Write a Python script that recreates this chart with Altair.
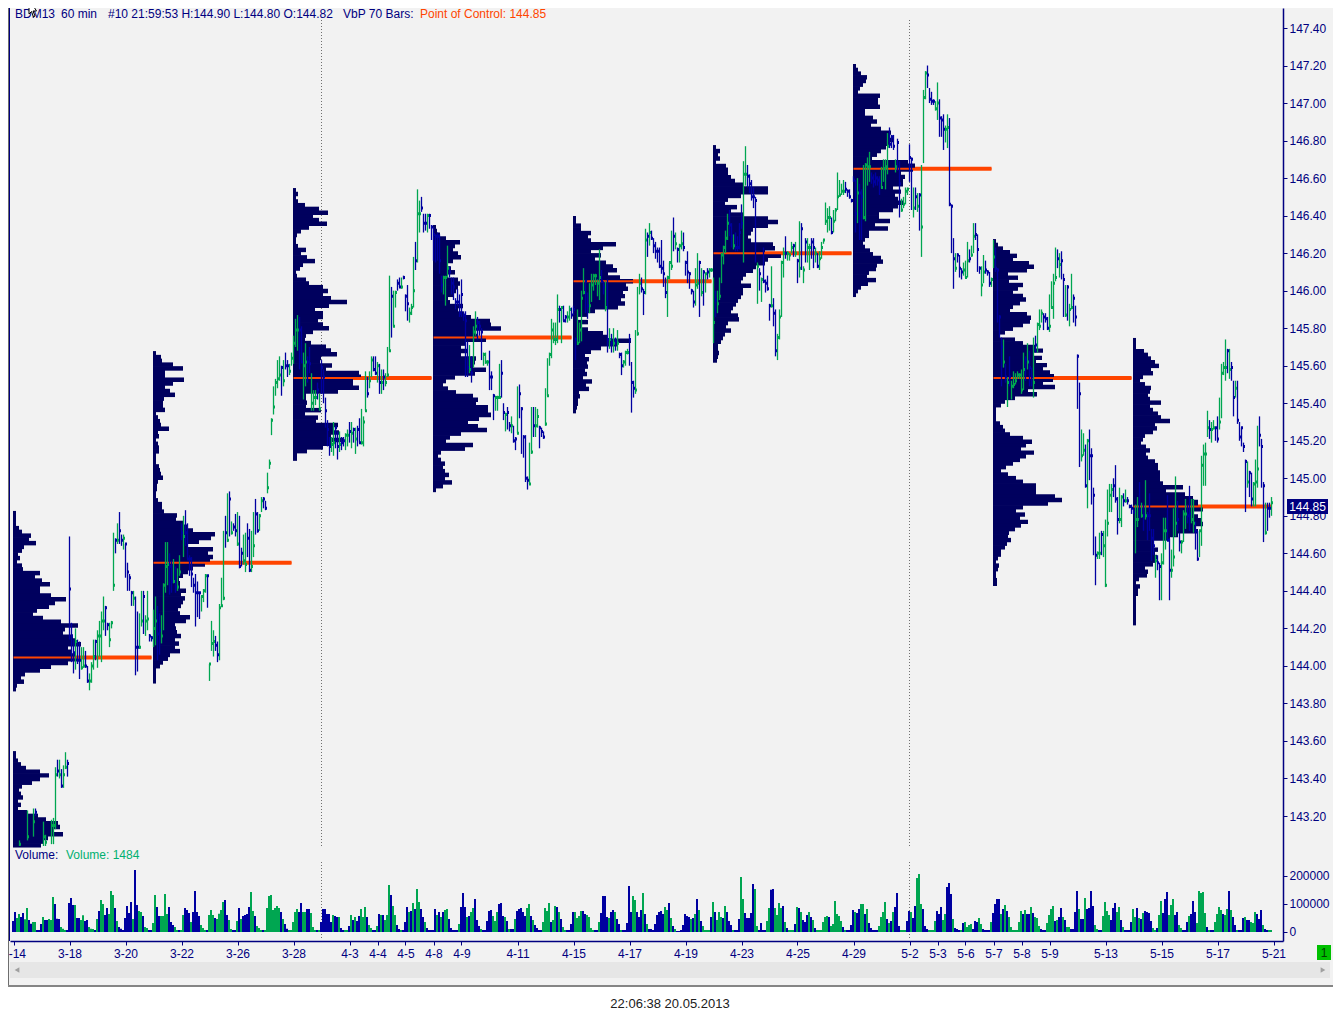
import altair as alt
import pandas as pd

# ---------- candles: (bar, high, low, close, up) ----------
candles_a = [(3,143.07,143.04,143.05,1),(7,143.23,143.07,143.09,1),(10,143.24,143.09,143.17,1),(11,143.24,143.2,143.22,0),(15,143.17,143.04,143.09,1),(16,143.1,143.04,143.06,1),(19,143.18,143.05,143.15,1),(20,143.19,143.05,143.15,1),(21,143.46,143.13,143.42,1),(22,143.5,143.41,143.44,0),(23,143.5,143.4,143.42,1),(24,143.45,143.35,143.36,0),(25,143.47,143.35,143.42,1),(26,143.54,143.45,143.46,1),(27,143.5,143.41,143.48,0),
(28,144.69,144.14,144.41,0),(29,144.23,144.02,144.16,0),(30,144.14,143.96,144.07,0),(31,144.2,143.98,144.13,1),(32,144.14,144.01,144.03,0),(33,144.13,143.93,144.03,0),(34,144.1,143.98,143.99,1),(35,144.1,143.99,144.0,1),(36,144.08,143.99,144.0,0),(37,144.0,143.91,143.92,0),(38,143.96,143.87,143.92,1),(39,144.02,143.91,144.0,1),(40,144.14,143.98,144.05,1),(41,144.14,144.03,144.13,0),(42,144.19,143.99,144.16,1),(43,144.24,144.05,144.16,1),(44,144.29,144.02,144.24,1),(45,144.37,144.19,144.24,1),(46,144.32,144.16,144.31,0),(47,144.23,144.19,144.22,0),(48,144.23,144.1,144.14,1),(49,144.24,144.2,144.23,1),(50,144.71,144.4,144.43,1),(51,144.68,144.6,144.67,0),(52,144.76,144.65,144.67,1),(53,144.82,144.65,144.72,0),(54,144.7,144.64,144.67,0),(55,144.7,144.62,144.68,1),(56,144.65,144.47,144.65,0),(57,144.55,144.4,144.5,0),(58,144.49,144.4,144.47,0),(59,144.4,144.32,144.39,0),(60,144.4,144.32,144.36,1),(61,144.37,143.95,144.1,0),(62,144.29,143.97,144.1,0),(63,144.28,144.09,144.1,1),(64,144.4,144.21,144.24,1),(65,144.4,144.17,144.37,0),(66,144.27,144.16,144.24,1),(67,144.4,144.19,144.25,1),(68,144.17,144.13,144.16,0),(69,144.16,144.13,144.15,0)]
candles_b = [(70,144.3,144.1,144.2,1),(71,144.37,144.11,144.24,1),(72,144.32,144.03,144.17,0),(73,144.28,144.06,144.19,0),(74,144.27,144.12,144.16,1),(75,144.44,144.19,144.43,1),(76,144.66,144.39,144.53,1),(77,144.66,144.43,144.54,1),(78,144.6,144.38,144.53,0),(79,144.56,144.39,144.45,0),(80,144.57,144.44,144.45,1),(81,144.53,144.39,144.42,0),(82,144.52,144.4,144.42,1),(83,144.59,144.48,144.5,1),(84,144.76,144.67,144.71,0),(85,144.8,144.58,144.69,1),(86,144.83,144.64,144.71,0),(87,144.76,144.57,144.57,0),(88,144.59,144.48,144.57,0),(89,144.58,144.42,144.49,0),(90,144.47,144.39,144.43,0),(91,144.49,144.21,144.39,0),(92,144.45,144.26,144.39,0),(93,144.39,144.25,144.39,0),(94,144.37,144.29,144.37,1),(95,144.41,144.34,144.4,1),(96,144.49,144.39,144.48,1),(97,144.48,144.31,144.48,0),(98,144.01,143.92,144.01,1),(99,144.24,144.08,144.12,1),(100,144.19,144.05,144.13,1),(101,144.16,144.08,144.11,0),(102,144.13,144.02,144.06,0),(103,144.33,144.03,144.31,1),(104,144.47,144.32,144.32,1),(105,144.72,144.35,144.36,1),(106,144.8,144.63,144.71,0),(107,144.92,144.66,144.67,1),(108,144.93,144.69,144.89,0),(109,144.77,144.7,144.71,1),(110,144.76,144.72,144.74,0),(111,144.81,144.69,144.72,0),(112,144.82,144.64,144.65,1),(113,144.8,144.52,144.53,0),(114,144.63,144.53,144.6,0),(115,144.7,144.54,144.56,1),(116,144.71,144.5,144.54,1),(117,144.76,144.58,144.68,0),(118,144.73,144.5,144.51,0),(119,144.72,144.5,144.53,1),(120,144.82,144.58,144.64,1),(121,144.89,144.7,144.81,0),(122,144.82,144.71,144.72,0),(123,144.81,144.72,144.8,1),(124,144.9,144.82,144.88,1),(125,144.9,144.84,144.89,0),(126,144.88,144.83,144.84,0),(127,145.03,144.92,144.95,1),(128,145.1,145.05,145.08,1),(129,145.32,145.23,145.31,1),(130,145.49,145.34,145.38,1),(131,145.53,145.44,145.51,1),(132,145.63,145.48,145.53,1),(133,145.65,145.52,145.55,1),(134,145.6,145.44,145.59,0),(135,145.63,145.49,145.52,1),(136,145.67,145.58,145.6,0),(137,145.63,145.54,145.6,0),(138,145.61,145.55,145.57,1),(139,145.67,145.6,145.64,1)]
candles_c = [(140,145.76,145.61,145.72,1),(141,145.85,145.7,145.79,1),(142,145.87,145.68,145.79,1),(143,145.86,145.58,145.79,0),(144,145.81,145.62,145.62,0),(145,145.67,145.42,145.6,1),(146,145.72,145.49,145.62,1),(147,145.65,145.51,145.62,0),(148,145.7,145.56,145.61,0),(149,145.56,145.36,145.4,1),(150,145.47,145.36,145.43,1),(151,145.47,145.39,145.43,1),(152,145.51,145.42,145.47,0),(153,145.45,145.36,145.37,1),(154,145.63,145.45,145.59,0),(155,145.58,145.4,145.54,0),(156,145.43,145.27,145.36,0),(157,145.31,145.17,145.26,0),(158,145.22,145.12,145.17,0),(159,145.22,145.14,145.18,1),(160,145.3,145.12,145.19,1),(161,145.28,145.16,145.27,0),(162,145.25,145.1,145.17,0),(163,145.25,145.14,145.18,1),(164,145.22,145.15,145.19,0),(165,145.22,145.17,145.2,0),(166,145.24,145.15,145.23,1),(167,145.26,145.17,145.23,1),(168,145.3,145.19,145.25,0),(169,145.3,145.16,145.24,1),(170,145.27,145.19,145.26,0),(171,145.27,145.13,145.21,1),(172,145.28,145.17,145.26,0),(173,145.32,145.19,145.19,0),(174,145.37,145.18,145.19,1),(175,145.33,145.17,145.3,1),(176,145.57,145.36,145.36,1),(177,145.54,145.43,145.45,0),(178,145.57,145.48,145.52,1),(179,145.65,145.54,145.63,1),(180,145.65,145.57,145.58,0),(181,145.65,145.55,145.56,0),(182,145.62,145.51,145.6,1),(183,145.61,145.45,145.51,0),(184,145.58,145.45,145.51,1),(185,145.58,145.47,145.54,0),(186,145.56,145.49,145.51,1),(187,145.7,145.54,145.55,1),(188,146.08,145.68,145.68,1),(189,146.02,145.75,145.97,0),(190,146.0,145.81,145.81,1),(191,146.0,145.91,145.99,1),(192,146.06,146.0,146.04,0),(193,146.07,146.02,146.02,0),(194,146.07,146.01,146.02,1),(195,146.08,146.06,146.07,0),(196,145.98,145.89,145.97,0),(197,146.03,145.84,145.93,0),(198,145.91,145.83,145.88,1),(199,145.93,145.87,145.91,1),(200,146.18,145.91,146.0,1),(201,146.26,146.11,146.16,0),(202,146.54,146.15,146.41,1),(203,146.48,146.31,146.41,1),(204,146.5,146.42,146.44,0),(205,146.41,146.31,146.36,0),(206,146.41,146.32,146.36,0),(207,146.41,146.31,146.4,1),(208,146.41,146.33,146.4,0),(209,146.35,146.27,146.34,0)]
candles_d = [(210,146.34,146.16,146.3,0),(211,146.3,146.15,146.29,0),(212,146.31,146.16,146.29,0),(213,146.3,146.09,146.16,0),(214,146.08,145.99,146.03,0),(215,146.08,145.98,146.07,1),(216,146.08,145.92,146.07,1),(217,146.24,146.07,146.12,1),(218,146.13,146.07,146.1,0),(219,146.07,145.98,146.04,0),(220,146.07,145.95,146.02,0),(221,145.96,145.9,145.94,0),(222,146.01,145.92,145.94,0),(223,145.98,145.86,145.88,0),(224,146.06,145.86,145.98,0),(225,145.89,145.84,145.87,0),(226,145.89,145.54,145.84,0),(227,145.73,145.54,145.59,0),(228,145.71,145.56,145.58,1),(229,145.65,145.51,145.56,0),(230,145.81,145.59,145.78,1),(231,145.89,145.76,145.81,1),(232,145.86,145.74,145.83,0),(233,145.84,145.76,145.81,0),(234,145.8,145.63,145.78,0),(235,145.67,145.6,145.66,1),(236,145.67,145.61,145.62,1),(237,145.63,145.6,145.62,1),(238,145.68,145.47,145.54,0),(239,145.57,145.47,145.54,0),(240,145.45,145.31,145.44,0),(241,145.44,145.36,145.43,1),(242,145.44,145.36,145.43,1),(243,145.61,145.43,145.43,1),(244,145.63,145.43,145.56,0),(245,145.4,145.31,145.35,0),(246,145.35,145.25,145.34,1),(247,145.38,145.26,145.35,0),(248,145.3,145.25,145.28,0),(249,145.33,145.24,145.28,1),(250,145.28,145.19,145.2,0),(251,145.22,145.15,145.21,0),(252,145.49,145.24,145.24,1),(253,145.5,145.32,145.45,0),(254,145.38,145.13,145.37,0),(255,145.23,145.11,145.22,0),(256,145.23,144.98,145.0,0),(257,145.01,144.94,144.99,0),(258,145.19,144.97,144.97,1),(259,145.38,145.13,145.14,1),(260,145.38,145.22,145.28,0),(261,145.38,145.22,145.28,1),(262,145.37,145.27,145.33,1),(263,145.28,145.16,145.27,0),(264,145.27,145.22,145.25,0),(265,145.25,145.21,145.22,0),(266,145.48,145.28,145.29,1),(267,145.64,145.44,145.44,1),(268,145.67,145.6,145.66,1),(269,145.85,145.64,145.79,1),(270,145.83,145.72,145.74,1),(271,145.83,145.71,145.74,1),(272,145.98,145.72,145.9,1),(273,145.92,145.83,145.9,0),(274,145.91,145.72,145.91,1),(275,145.92,145.84,145.84,0),(276,145.87,145.83,145.86,0),(277,145.89,145.83,145.86,1),(278,145.92,145.84,145.9,1),(279,145.91,145.85,145.87,0)]
candles_e = [(280,145.92,145.87,145.9,0),(281,145.75,145.63,145.74,0),(282,145.9,145.71,145.72,1),(283,145.83,145.72,145.79,1),(284,146.0,145.73,145.96,1),(285,146.12,145.98,145.99,1),(286,146.05,145.88,146.05,0),(287,145.99,145.85,145.92,0),(288,146.04,145.88,145.92,1),(289,146.09,145.94,146.03,1),(290,146.09,146.0,146.08,1),(291,146.09,146.03,146.08,1),(292,146.06,145.97,146.04,1),(293,146.22,145.95,146.07,1),(294,146.11,146.04,146.05,0),(295,146.05,145.98,146.02,0),(296,146.05,145.89,145.91,1),(297,146.06,145.67,145.74,0),(298,145.8,145.69,145.74,1),(299,145.77,145.67,145.72,0),(300,145.8,145.67,145.72,1),(301,145.75,145.68,145.73,0),(302,145.79,145.68,145.72,1),(303,145.67,145.64,145.66,0),(304,145.67,145.55,145.6,0),(305,145.63,145.59,145.62,1),(306,145.68,145.6,145.67,1),(307,145.69,145.66,145.67,1),(308,145.77,145.6,145.74,0),(309,145.62,145.35,145.51,0),(310,145.52,145.43,145.48,0),(311,145.79,145.45,145.47,1),(312,146.02,145.76,145.77,1),(313,146.09,145.98,146.04,1),(314,146.07,145.99,146.01,0),(315,146.01,145.87,145.99,0),(316,146.33,145.98,146.27,1),(317,146.31,146.18,146.29,0),(318,146.36,146.24,146.31,1),(319,146.32,146.27,146.28,0),(320,146.28,146.2,146.24,0),(321,146.26,146.17,146.21,0),(322,146.23,146.15,146.21,0),(323,146.23,146.12,146.13,0),(324,146.27,146.09,146.12,0),(325,146.16,146.02,146.09,0),(326,146.07,145.96,145.99,0),(327,146.08,145.86,146.07,1),(328,146.15,146.06,146.15,1),(329,146.32,146.11,146.13,1),(330,146.39,146.21,146.29,0),(331,146.31,146.22,146.25,1),(332,146.23,146.15,146.22,0),(333,146.25,146.15,146.24,1),(334,146.32,146.22,146.25,1),(335,146.31,146.21,146.23,0),(336,146.16,146.08,146.15,0),(337,146.21,146.04,146.1,0),(338,146.1,146.01,146.09,0),(339,146.01,145.98,146.0,0),(340,146.0,145.91,145.94,0),(341,146.12,145.92,146.03,1),(342,146.2,146.01,146.04,1),(343,146.16,145.86,146.15,0),(344,146.12,145.97,145.99,1),(345,146.11,145.92,146.1,0),(346,146.09,145.99,146.09,1),(347,146.12,146.06,146.1,0),(348,146.12,146.07,146.11,1),(349,146.12,146.1,146.11,1)]
candles_f = [(350,146.07,145.72,145.83,1),(351,146.0,145.86,145.95,0),(352,146.0,145.88,145.93,1),(353,146.07,145.95,145.97,1),(354,146.2,146.04,146.19,1),(355,146.24,146.14,146.23,1),(356,146.32,146.2,146.28,1),(357,146.41,146.27,146.36,1),(358,146.43,146.29,146.35,0),(359,146.36,146.23,146.29,0),(360,146.3,146.22,146.24,1),(361,146.31,146.21,146.23,0),(362,146.29,146.21,146.23,0),(363,146.36,146.22,146.31,0),(364,146.46,146.33,146.36,0),(365,146.69,146.15,146.62,1),(366,146.77,146.56,146.62,1),(367,146.67,146.55,146.61,0),(368,146.62,146.52,146.57,0),(369,146.59,146.48,146.5,0),(370,146.55,146.44,146.5,0),(371,146.5,146.15,146.48,0),(372,146.15,145.93,146.13,1),(373,146.12,146.0,146.09,0),(374,146.07,145.94,146.06,1),(375,146.23,146.04,146.05,0),(376,146.06,145.99,146.04,0),(377,146.08,146.0,146.01,0),(378,145.93,145.84,145.92,0),(379,146.13,145.91,145.92,1),(380,145.96,145.81,145.88,0),(381,145.9,145.65,145.68,0),(382,145.77,145.63,145.75,1),(383,145.9,145.74,145.86,1),(384,146.16,145.86,146.15,1),(385,146.23,146.07,146.2,1),(386,146.29,146.17,146.2,0),(387,146.21,146.16,146.2,1),(388,146.2,146.16,146.19,1),(389,146.26,146.2,146.23,1),(390,146.25,146.18,146.24,0),(391,146.26,146.18,146.2,1),(392,146.17,146.04,146.16,0),(393,146.37,146.07,146.12,1),(394,146.36,146.11,146.33,0),(395,146.13,146.04,146.11,1),(396,146.28,146.15,146.26,0),(397,146.28,146.15,146.23,1),(398,146.25,146.11,146.23,1),(399,146.28,146.17,146.26,0),(400,146.28,146.12,146.23,0),(401,146.23,146.15,146.2,1),(402,146.2,146.12,146.13,0),(403,146.21,146.11,146.17,1),(404,146.26,146.17,146.23,1),(405,146.27,146.25,146.27,1),(406,146.47,146.35,146.37,1),(407,146.44,146.31,146.39,1),(408,146.45,146.32,146.39,1),(409,146.39,146.3,146.31,0),(410,146.43,146.31,146.37,1),(411,146.44,146.37,146.43,1),(412,146.63,146.43,146.5,1),(413,146.59,146.5,146.51,1),(414,146.57,146.51,146.53,1),(415,146.59,146.51,146.53,1),(416,146.58,146.52,146.54,0),(417,146.54,146.5,146.53,0),(418,146.54,146.49,146.5,0),(419,146.49,146.47,146.48,0)]
candles_g = [(420,146.61,146.58,146.59,0),(421,146.59,146.31,146.41,0),(422,146.6,146.36,146.52,1),(423,146.57,146.27,146.52,0),(424,146.54,146.27,146.5,0),(425,146.67,146.38,146.39,1),(426,146.68,146.37,146.67,1),(427,146.71,146.56,146.66,1),(428,146.74,146.58,146.66,1),(429,146.63,146.57,146.6,0),(430,146.62,146.55,146.58,0),(431,146.63,146.56,146.6,0),(432,146.61,146.56,146.59,0),(433,146.61,146.51,146.58,0),(434,146.66,146.55,146.55,1),(435,146.7,146.58,146.65,1),(436,146.7,146.54,146.66,1),(437,146.84,146.62,146.77,1),(438,146.87,146.76,146.78,0),(439,146.83,146.76,146.82,0),(440,146.83,146.75,146.77,0),(441,146.7,146.63,146.66,1),(442,146.81,146.64,146.79,0),(443,146.69,146.39,146.57,0),(444,146.49,146.42,146.43,1),(445,146.5,146.44,146.46,1),(446,146.55,146.46,146.53,1),(447,146.55,146.51,146.54,1),(448,146.78,146.58,146.71,0),(449,146.71,146.43,146.7,0),(450,146.55,146.39,146.44,1),(451,146.55,146.43,146.5,0),(452,146.52,146.42,146.45,1),(453,146.52,146.32,146.51,0),(454,146.67,146.18,146.34,1),(455,147.07,146.68,147.03,1),(456,147.17,147.02,147.16,1),(457,147.2,147.08,147.15,0),(458,147.08,147.0,147.02,0),(459,147.06,146.99,147.01,0),(460,147.02,146.99,147.01,0),(461,147.01,146.96,146.97,1),(462,147.11,146.91,147.0,1),(463,147.02,146.82,146.92,0),(464,146.93,146.82,146.91,0),(465,146.94,146.75,146.86,0),(466,146.88,146.79,146.86,1),(467,146.94,146.76,146.87,1),(468,146.92,146.45,146.46,0),(469,146.46,146.2,146.45,0),(470,146.28,146.01,146.17,0),(471,146.2,146.1,146.12,1),(472,146.2,146.15,146.19,0),(473,146.19,146.07,146.12,0),(474,146.12,146.06,146.1,0),(475,146.15,146.08,146.11,1),(476,146.16,146.07,146.07,1),(477,146.26,146.07,146.16,1),(478,146.22,146.15,146.17,0),(479,146.24,146.18,146.19,1),(480,146.36,146.2,146.29,1),(481,146.36,146.27,146.3,0),(482,146.3,146.1,146.22,0),(483,146.13,146.09,146.12,0),(484,146.13,145.97,146.03,1),(485,146.19,146.04,146.1,1),(486,146.16,146.09,146.11,0),(487,146.11,146.08,146.1,0),(488,146.1,146.02,146.04,0),(489,146.07,146.02,146.06,1)]
candles_h = [(490,146.27,146.12,146.18,1),(491,146.23,146.1,146.12,0),(492,146.12,145.83,146.11,0),(493,145.87,145.75,145.86,0),(494,145.75,145.49,145.7,0),(495,145.74,145.59,145.62,1),(496,145.61,145.51,145.54,0),(497,145.54,145.38,145.51,1),(498,145.65,145.49,145.54,0),(499,145.52,145.42,145.49,1),(500,145.57,145.48,145.5,1),(501,145.56,145.5,145.52,1),(502,145.57,145.53,145.55,1),(503,145.56,145.53,145.55,1),(504,145.58,145.45,145.47,1),(505,145.67,145.47,145.58,1),(506,145.65,145.52,145.63,0),(507,145.72,145.58,145.62,1),(508,145.68,145.49,145.59,0),(509,145.59,145.49,145.54,0),(510,145.75,145.43,145.51,1),(511,145.76,145.67,145.71,0),(512,145.83,145.67,145.82,1),(513,145.9,145.79,145.81,1),(514,145.9,145.83,145.88,1),(515,145.88,145.79,145.86,0),(516,145.88,145.83,145.85,0),(517,145.86,145.79,145.8,0),(518,145.98,145.78,145.81,1),(519,146.05,145.91,145.91,1),(520,146.09,145.85,146.04,1),(521,146.23,146.05,146.07,1),(522,146.22,146.12,146.17,0),(523,146.2,146.07,146.14,1),(524,146.21,146.06,146.16,0),(525,146.09,145.86,146.06,0),(526,146.03,145.86,145.87,1),(527,146.03,145.84,146.02,0),(528,145.93,145.81,145.9,1),(529,146.09,145.9,145.91,1),(530,145.98,145.83,145.96,0),(531,145.92,145.81,145.86,0),(532,145.66,145.37,145.65,0),(533,145.51,145.06,145.45,0),(534,145.26,145.09,145.12,1),(535,145.24,145.12,145.15,1),(536,145.18,144.95,144.96,0),(537,145.21,144.84,145.2,1),(538,145.26,144.99,145.12,0),(539,145.16,144.86,145.12,0),(540,144.95,144.59,144.91,0),(541,144.69,144.43,144.59,0),(542,144.61,144.57,144.6,1),(543,144.71,144.57,144.6,1),(544,144.72,144.59,144.7,0),(545,144.72,144.58,144.64,1),(546,144.78,144.42,144.43,1),(547,144.94,144.69,144.76,1),(548,144.97,144.82,144.91,1),(549,144.97,144.82,144.94,1),(550,145.0,144.9,144.96,0),(551,145.07,144.87,144.89,0),(552,144.9,144.7,144.78,0),(553,144.95,144.76,144.78,1),(554,144.91,144.74,144.9,1),(555,144.92,144.85,144.88,0),(556,144.94,144.87,144.88,1),(557,144.9,144.86,144.88,0),(558,144.86,144.84,144.85,0),(559,144.86,144.81,144.84,0)]
candles_i = [(560,144.84,144.81,144.82,0),(561,144.86,144.6,144.78,1),(562,144.9,144.74,144.78,1),(563,144.98,144.78,144.83,0),(564,144.87,144.79,144.8,1),(565,144.86,144.72,144.8,0),(566,144.99,144.78,144.8,1),(567,144.82,144.67,144.8,0),(568,144.92,144.72,144.8,0),(569,144.73,144.56,144.68,0),(570,144.73,144.59,144.64,0),(571,144.59,144.47,144.56,1),(572,144.59,144.51,144.55,0),(573,144.55,144.35,144.53,0),(574,144.6,144.35,144.55,1),(575,144.79,144.54,144.72,1),(576,144.79,144.62,144.72,1),(577,144.91,144.67,144.67,0),(578,144.68,144.35,144.51,0),(579,144.62,144.47,144.51,1),(580,144.84,144.53,144.58,1),(581,145.01,144.69,144.76,1),(582,144.88,144.72,144.78,0),(583,144.71,144.61,144.66,0),(584,144.67,144.6,144.66,1),(585,144.83,144.66,144.81,1),(586,144.89,144.73,144.81,1),(587,144.86,144.76,144.8,0),(588,144.96,144.72,144.81,0),(589,144.89,144.76,144.78,1),(590,144.89,144.71,144.76,1),(591,144.77,144.62,144.72,0),(592,144.72,144.56,144.57,0),(593,144.72,144.58,144.72,1),(594,145.12,144.64,145.07,1),(595,145.18,144.96,145.13,1),(596,145.19,144.96,145.13,1),(597,145.36,145.22,145.27,1),(598,145.31,145.21,145.26,0),(599,145.3,145.19,145.26,1),(600,145.31,145.26,145.27,1),(601,145.27,145.2,145.27,0),(602,145.33,145.19,145.21,0),(603,145.43,145.26,145.3,1),(604,145.61,145.32,145.56,1),(605,145.62,145.55,145.59,1),(606,145.74,145.52,145.59,1),(607,145.69,145.56,145.68,0),(608,145.69,145.53,145.58,1),(609,145.62,145.52,145.59,0),(610,145.52,145.33,145.43,0),(611,145.52,145.43,145.48,1),(612,145.52,145.29,145.31,0),(613,145.3,145.2,145.22,0),(614,145.27,145.17,145.27,0),(615,145.19,145.14,145.17,0),(616,145.1,144.82,145.09,0),(617,145.09,144.95,144.98,1),(618,145.04,144.9,145.03,0),(619,145.03,144.85,144.89,0),(620,144.98,144.85,144.97,1),(621,145.1,144.85,144.98,1),(622,145.28,144.95,145.05,1),(623,145.33,145.17,145.23,0),(624,145.21,144.95,145.17,0),(625,144.98,144.66,144.96,0),(626,144.87,144.7,144.71,1),(627,144.87,144.72,144.84,0),(628,144.87,144.79,144.84,0),(629,144.9,144.8,144.87,1)]

# ---------- volume profiles ----------
profile_start = [0, 0, 70, 140, 210, 280, 350, 420, 490, 560]
profile_top = [144.826, 143.546, 145.678, 146.547, 146.35, 146.398, 146.776, 147.208, 146.275, 145.748]
profile_bottom = [143.868, 143.036, 143.91, 145.097, 144.93, 145.35, 145.62, 145.97, 144.43, 144.22]
profile_1 = [3,3,3,3,6,9,18,16,23,11,9,5,7,4,9,10,27,22,29,37,27,27,38,53,42,36,24,20,30,48,65,52,50,60,62,68,55,58,62,65,55,38,27,12,8,11,4,3]
profile_1b = [3,3,5,8,13,27,36,27,19,9,6,8,10,5,8,5,14,25,33,45,47,40,50,35,30,28]
profile_2 = [3,8,9,20,30,12,12,31,20,12,17,22,11,10,10,12,3,5,7,8,16,5,6,3,5,6,6,3,3,3,6,7,8,10,5,4,4,3,3,5,9,9,11,24,23,31,35,40,62,58,46,35,60,55,60,57,52,40,35,30,26,27,27,33,28,32,30,28,25,27,37,33,22,23,24,28,22,26,22,27,17,15,10,7,3,3,3,3]
profile_3 = [3,5,3,5,12,26,35,20,26,34,16,8,4,3,3,5,13,8,14,22,10,7,3,4,13,16,30,35,30,38,54,36,22,30,30,25,30,36,20,13,12,18,33,38,44,28,27,39,33,66,68,60,60,66,45,13,13,14,13,28,12,25,23,45,40,46,38,50,38,30,14,4,4]
profile_4 = [3,4,7,13,27,22,20,25,28,20,15,18,22,15,25,27,25,23,20,15,17,30,25,30,38,57,58,68,42,45,53,32,28,35,28,43,42,40,53,42,22,13,10,15,23,40,45,43,55,55,58,46,35,45,54,28,17,13,40,32,8,5,8,12,10,12,16,12,19,10,3]
profile_5 = [3,3,8,8,18,15,18,43,30,18,28,22,33,40,44,35,47,60,53,55,50,52,48,52,45,22,15,5,15,8,15,30,35,58,45,28,18,12,16,14,15,12,14,10,19,13,16,6,7,5,5,4,3]
profile_6 = [3,7,5,7,3,13,15,15,18,22,30,55,55,28,15,12,24,18,30,55,65,55,40,38,35,38,60,62,52,68,55,52,43,40,33,30,28,38,30,30,28,25,23,20,18,25,26,15,13,18,12,10,8,5,5,6,5,4]
profile_7 = [3,5,8,14,13,10,7,5,27,25,25,27,12,12,20,24,18,28,38,37,40,37,33,28,24,19,55,62,60,48,52,50,50,40,48,42,45,50,45,40,26,26,37,22,35,16,16,12,10,12,17,20,28,30,24,23,16,14,23,15,8,5,3]
profile_8 = [3,5,10,17,24,20,36,41,34,15,25,16,30,25,20,30,33,27,20,17,34,38,37,30,20,12,7,22,30,42,50,40,49,43,54,50,57,61,60,50,62,35,44,22,12,8,3,3,3,3,7,10,12,17,30,39,33,28,41,33,27,20,13,8,15,23,30,43,43,43,62,69,55,30,23,32,27,35,28,22,16,15,18,14,12,8,8,5,3,6,5,3,3,4,4]
profile_9 = [3,3,3,11,15,18,22,26,18,20,10,7,12,18,17,15,17,28,17,20,25,28,37,22,24,20,12,10,8,13,17,13,15,22,25,25,27,27,27,30,50,33,52,60,65,65,70,60,65,68,70,63,65,45,37,20,20,25,22,24,22,20,12,15,14,6,3,7,5,5,3,3,3,3,3,3,3,3]
profiles = [profile_1, profile_1b, profile_2, profile_3, profile_4, profile_5, profile_6, profile_7, profile_8, profile_9]

# ---------- points of control ----------
poc_start = [0, 70, 140, 210, 280, 350, 420, 490, 560]
poc_price = [144.045, 144.55, 145.535, 145.75, 146.05, 146.2, 146.65, 145.535, 144.85]

# ---------- volume (signed: positive = up bar; unit = lots of 1190) ----------
VOL_UNIT = 1190
vol_head = [-33,-60,42,54,-45,-57,38,72,-36,-25,30,30,-6,-6,-24,45,-36,-36,39,36,105,-84,-40,-39,15,10,6,-6,-87,-102,-81,81,-42,-42,36,50,-33,-36,15,10,9,-6,39,-63,96,84,-51,-72,54,123,111,-72,33,-15,-10,-6,-42,-78,-57,-90,39,-186,-81,63,60,-48,15,12,-6,-6,27,111,-75,-48,48,48,114,54,-75,-30,-21,15,6,-6,6,51,-72,-66,-57,30,-60,-123,-60,-48,21,12,6,-6,51,66,51,-42,39,55,66,90,-96,-51,36,9,-6,-6,33,-72,39,-48,-51,-54,-75,120,63,-48,18,12,6,-6,6,72,108,111,66,72,78,72,-60,39,-24,-10,6,6,30,60,69,-60,-87,60,60,-69,-69,57,15,6,-6,6,-30,-69,-69,-54,-54,-30,51,-48,-45,45,-12,-6,6,6,-18,51,-36,45,-33,-48,69,45,75,-45,21,12,-6,-6,18,-54,51,-51,36,51,141,-111,78,51,-21,-9,6,-6,-30,-75,60,-63,87,-69,129,90,-69,-45,30,-12,-6,-6,-6,-69,51,-60,45,-60,66,69,-39,-12,-6,-6,-6]
vol_days = [
 [24,-75,-117,-75,45,-48,60,72,-99,-36,-18,9,-6,-6],
 [-33,-63,-66,48,33,60,-84,-87,-48,45,-33,9,-9,-9],
 [39,-63,-69,-72,-60,-48,72,84,-48,36,-21,-12,-6,-6],
 [30,72,63,87,-30,36,78,-75,60,-39,15,6,-6,-6],
 [-24,-60,60,42,48,63,-63,-54,51,45,12,6,-6,-6],
 [30,-57,-108,-108,-45,42,-60,-66,60,-39,-24,6,-6,-6],
 [-27,-138,-60,108,96,-60,-45,-66,117,-54,24,-9,-9,-6],
 [-24,-51,-60,-63,-54,75,66,-87,42,-18,9,-3,-3,-6],
 [-21,-54,-48,-45,39,-42,54,-99,66,-33,18,6,6,6],
 [-45,90,-60,36,60,45,-42,78,-60,-33,-21,6,-6,-6],
 [-39,165,99,-57,-42,-42,-57,-144,129,18,-6,-27,-6,-6],
 [33,72,-127,-129,72,51,87,72,-78,30,-12,6,6,6],
 [-24,75,-72,60,-36,-30,-51,60,-45,36,-12,6,6,6],
 [30,45,48,-45,18,24,93,54,48,33,-15,6,-6,-6],
 [-21,-66,60,-57,-69,84,84,-54,69,-27,-12,-6,-6,-6],
 [18,45,60,90,-39,27,-33,60,-75,-117,-18,6,6,6],
 [-33,-63,60,-42,-78,162,174,84,-69,-18,-9,6,6,6],
 [33,-63,-54,-75,36,54,-135,-147,-114,39,-12,-9,-6,6],
 [-27,30,15,21,24,-9,-33,-30,42,24,-9,-6,-6,-6],
 [30,-57,-84,-99,-99,54,-69,81,-63,45,15,6,6,6],
 [30,63,-54,66,-54,-54,75,-57,45,42,18,-9,-6,-6],
 [27,51,69,78,-33,36,-45,-72,45,-36,15,15,-9,-9],
 [-60,-123,69,-39,-39,102,-69,-72,-123,-78,21,9,-6,-6],
]
vol_tail = [48,90,63,51,-36,-72,-87,60,75,-36,15,-6,-6,-6,-30,69,45,-72,42,-39,57,-63,-60,-57,-33,12,6,-12,51,93,-57,-99,-120,51,81,99,-51,-60,21,12,-6,-6,-30,48,-54,-93,-60,27,123,117,120,57,-15,6,-6,-6,30,54,75,66,-54,51,69,-123,66,-45,-21,6,-6,-6,-42,45,-36,-36,30,27,60,-54,-39,-66,21,-9,-6,6,6]

# ---------- axes ----------
price_ticks = [143.2,143.4,143.6,143.8,144.0,144.2,144.4,144.6,144.8,145.0,145.2,145.4,145.6,145.8,146.0,146.2,146.4,146.6,146.8,147.0,147.2,147.4]
volume_ticks = [0, 100000, 200000]
date_bars = [0,28,56,84,112,140,168,182,196,210,224,252,280,308,336,364,392,420,448,462,476,490,504,518,546,574,602,630]
date_labels = ["3-14","3-18","3-20","3-22","3-26","3-28","4-3","4-4","4-5","4-8","4-9","4-11","4-15","4-17","4-19","4-23","4-25","4-29","5-2","5-3","5-6","5-7","5-8","5-9","5-13","5-15","5-17","5-21"]
session_breaks = [154, 448]

# ---------- style ----------
W, H = 1325, 1002
PLOT_L, PLOT_R, PLOT_B = 2, 1275, 933
NAVY = "#000080"; PROFILE = "#00005e"; DOWN = "#0000a0"; UP = "#00a651"; POC = "#ff4500"
FONT = "Liberation Sans"

x_scale = alt.Scale(domain=[-1.75, 634.75], range=[PLOT_L, PLOT_R], nice=False, zero=False)
price_scale = alt.Scale(domain=[142.5338, 147.5066], range=[PLOT_B, 0], nice=False, zero=False)
vol_scale = alt.Scale(domain=[-32143, 3300000], range=[PLOT_B, 0], nice=False, zero=False)

# ---------- tables ----------
rows = candles_a + candles_b + candles_c + candles_d + candles_e + candles_f + candles_g + candles_h + candles_i
candles = pd.DataFrame(rows, columns=["bar", "high", "low", "close", "up"])
candles["color"] = candles["up"].map({1: UP, 0: DOWN})

prof = []
for start, top, bottom, widths in zip(profile_start, profile_top, profile_bottom, profiles):
    step = (top - bottom) / len(widths)
    for k, w in enumerate(widths):
        prof.append({"x0": start - 0.25, "x1": start - 0.25 + w / 2,
                     "p0": top - k * step, "p1": top - (k + 1) * step - 0.004})
prof = pd.DataFrame(prof)

poc = pd.DataFrame({"x0": poc_start, "x1": [s + 69 for s in poc_start], "price": poc_price})

vols = []
for start, values in [(0, vol_head)] + [(223 + 14 * d, v) for d, v in enumerate(vol_days)] + [(545, vol_tail)]:
    for k, v in enumerate(values):
        b = start + k
        vols.append({"x0": b - 0.75, "x1": b + 0.25, "v": abs(v) * VOL_UNIT, "base": 0, "color": UP if v > 0 else DOWN})
vols = pd.DataFrame(vols)

X0 = alt.X("x0:Q", scale=x_scale, axis=None, title=None)
Pn = lambda f: alt.Y(f, scale=price_scale, axis=None, title=None)


def box(x, x2, y, y2, color):
    return alt.Chart(pd.DataFrame({"a": [0]})).mark_rect(color=color).encode(
        x=alt.value(x), x2=alt.value(x2), y=alt.value(y), y2=alt.value(y2))


def label(x, y, text, color=NAVY, align="left", size=12, weight="normal"):
    return alt.Chart(pd.DataFrame({"t": [text]})).mark_text(
        font=FONT, fontSize=size, color=color, align=align, baseline="middle", fontWeight=weight
    ).encode(x=alt.value(x), y=alt.value(y), text="t:N")


layers = [
    box(0, W, 979, H, "#ffffff"),
    box(2, 1322, 954, 970, "#e6e6e6"),
    box(0, W, 977, 979, "#858585"),
    box(0, 1, 0, 977, "#6e6e6e"),
    box(1, 2, 0, PLOT_B, NAVY),
]

# dotted session separators
breaks = pd.DataFrame({"bar": session_breaks})
for y0, y1 in [(12, 838), (854, 932)]:
    layers.append(alt.Chart(breaks).mark_rule(color="#707070", strokeWidth=1, strokeDash=[1, 2]).encode(
        x=alt.X("bar:Q", scale=x_scale, axis=None, title=None), y=alt.value(y0), y2=alt.value(y1)))

# price axis carried by a thick POC line layer
layers.append(alt.Chart(poc).mark_rule(color=POC, strokeWidth=4).encode(
    x=X0, x2="x1:Q",
    y=alt.Y("price:Q", scale=price_scale, title=None,
            axis=alt.Axis(orient="right", offset=PLOT_R - W, values=price_ticks, format=".2f", grid=False,
                          domainColor=NAVY, domainWidth=1.5, tickColor=NAVY, tickSize=4, tickWidth=1,
                          labelColor=NAVY, labelFont=FONT, labelFontSize=12, labelPadding=2,
                          labelOverlap=False, labelFlush=False, labelBound=False))))

layers.append(alt.Chart(prof).mark_rect(color=PROFILE).encode(x=X0, x2="x1:Q", y=Pn("p0:Q"), y2="p1:Q"))
layers.append(alt.Chart(poc).mark_rule(color=POC, strokeWidth=2).encode(x=X0, x2="x1:Q", y=Pn("price:Q")))

# candles
layers.append(alt.Chart(candles).mark_rule(strokeWidth=1.3).encode(
    x=alt.X("bar:Q", scale=x_scale, axis=None, title=None), y=Pn("high:Q"), y2="low:Q",
    color=alt.Color("color:N", scale=None, legend=None)))
layers.append(alt.Chart(candles).mark_tick(orient="horizontal", size=2, thickness=3, opacity=1, xOffset=0.5).encode(
    x=alt.X("bar:Q", scale=x_scale, axis=None, title=None), y=Pn("close:Q"),
    color=alt.Color("color:N", scale=None, legend=None)))

# volume + its axis + date axis
layers.append(alt.Chart(vols).mark_rect().encode(
    x=alt.X("x0:Q", scale=x_scale, title=None,
            axis=alt.Axis(orient="bottom", offset=PLOT_B - H, values=date_bars, grid=False,
                          labelExpr="%s[indexof(%s, datum.value)]" % (date_labels, date_bars),
                          domainColor=NAVY, domainWidth=1.5, tickColor=NAVY, tickSize=4, tickWidth=1,
                          labelColor=NAVY, labelFont=FONT, labelFontSize=12, labelPadding=3,
                          labelOverlap=False, labelFlush=False, labelBound=False)),
    x2="x1:Q",
    y=alt.Y("v:Q", scale=vol_scale, title=None,
            axis=alt.Axis(orient="right", offset=PLOT_R - W, values=volume_ticks, format="d", grid=False,
                          domain=False, tickColor=NAVY, tickSize=4, tickWidth=1,
                          labelColor=NAVY, labelFont=FONT, labelFontSize=12, labelPadding=2,
                          labelOverlap=False, labelFlush=False, labelBound=False)),
    y2="base:Q",
    color=alt.Color("color:N", scale=None, legend=None)))

# last-price tag
layers.append(box(1279, 1320, 491, 506, NAVY))
layers.append(label(1299.5, 499, "144.85", color="white", align="center"))

# texts
layers += [
    label(7, 6, "BDM13", color=NAVY),
    label(53, 6, "60 min"),
    label(100, 6, "#10 21:59:53 H:144.90 L:144.80 O:144.82"),
    label(335, 6, "VbP 70 Bars:"),
    label(412, 6, "Point of Control: 144.85", color=POC),
    label(7, 847, "Volume:"),
    label(58, 847, "Volume: 1484", color="#00b070"),
    box(1309, 1323, 937, 952, "#00c000"),
    label(1316, 945, "1", color="#004000", align="center"),
    label(662, 996, "22:06:38 20.05.2013", color="#202020", align="center", size=13),
]

# scroll arrows
layers.append(alt.Chart(pd.DataFrame({"a": [0]})).mark_point(shape="triangle-left", filled=True, color="#a0a0a0", size=30, opacity=1).encode(x=alt.value(9), y=alt.value(962)))
layers.append(alt.Chart(pd.DataFrame({"a": [0]})).mark_point(shape="triangle-right", filled=True, color="#a0a0a0", size=30, opacity=1).encode(x=alt.value(1315), y=alt.value(962)))

# mouse cursor at the top left
layers.append(alt.Chart(pd.DataFrame({"a": [0]})).mark_point(
    shape="M-0.3,-1 L-0.3,0.5 L-0.05,0.25 L0.15,0.8 L0.3,0.7 L0.1,0.2 L0.45,0.2 Z",
    filled=True, fill="white", stroke="black", strokeWidth=1, size=400, opacity=1
).encode(x=alt.value(24), y=alt.value(1)))

chart = alt.layer(*layers).resolve_scale(y="independent").resolve_axis(x="independent").properties(
    width=W, height=H, padding=0, background="#f2f2f2",
    autosize=alt.AutoSizeParams(type="none", contains="content"),
).configure_view(stroke=None)

chart.save("out.html", embed_options={"renderer": "svg", "actions": False})
